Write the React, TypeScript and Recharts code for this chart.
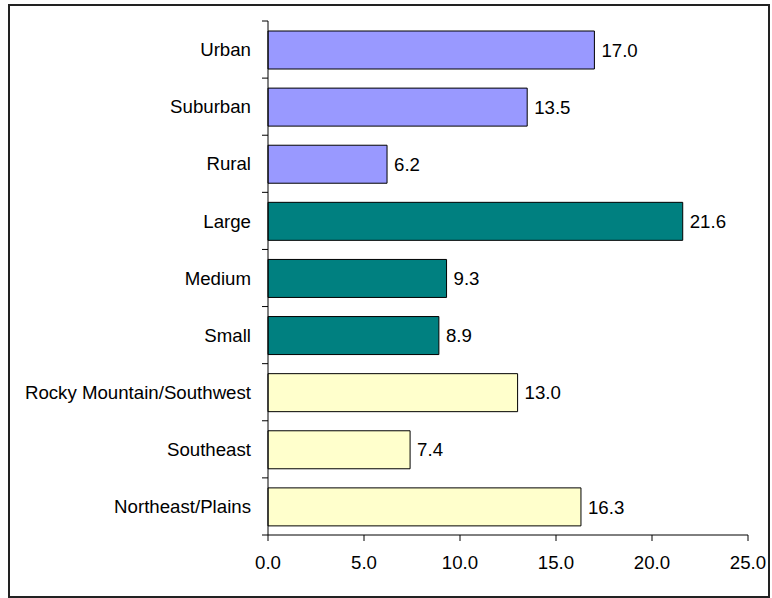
import React from 'react';
import { BarChart, Bar, XAxis, YAxis, Cell, LabelList } from 'recharts';

const categories = [
  'Urban',
  'Suburban',
  'Rural',
  'Large',
  'Medium',
  'Small',
  'Rocky Mountain/Southwest',
  'Southeast',
  'Northeast/Plains',
];
const values = [17.0, 13.5, 6.2, 21.6, 9.3, 8.9, 13.0, 7.4, 16.3];
const groups = ['locale', 'locale', 'locale', 'size', 'size', 'size', 'region', 'region', 'region'];
const xTicks = [0, 5, 10, 15, 20, 25];

const groupColors: Record<string, string> = {
  locale: '#9999FF',
  size: '#008080',
  region: '#FFFFCC',
};

const data = categories.map((name, i) => ({ name, value: values[i], group: groups[i] }));

const FONT = '"Liberation Sans", Arial, sans-serif';
const FS = 18.67;
const W = 772;
const H = 598;
const M = { top: 21, right: 24, bottom: 23, left: 0 };
const X_AXIS_H = 40;
const PLOT_H = H - M.top - M.bottom - X_AXIS_H;

// category ticks sit on the band boundaries, like the original
const CatTick = (props: any) => {
  const { x, y, payload, index } = props;
  const half = payload && payload.offset ? payload.offset : PLOT_H / categories.length / 2;
  const axisX = x + 6 + 11;
  return (
    <g>
      <text x={x} y={y} textAnchor="end" dy="0.36em" fontFamily={FONT} fontSize={FS} fill="#000">
        {payload.value}
      </text>
      <line x1={axisX - 6} x2={axisX} y1={y - half} y2={y - half} stroke="#000" />
      {index === categories.length - 1 && (
        <line x1={axisX - 6} x2={axisX} y1={y + half} y2={y + half} stroke="#000" />
      )}
    </g>
  );
};

export default function App() {
  return (
    <div style={{ position: 'absolute', left: 0, top: 0, width: W, height: H, background: '#fff' }}>
      <div
        style={{
          position: 'absolute',
          left: 8,
          top: 4,
          width: 762,
          height: 594,
          border: '2px solid #222',
          boxSizing: 'border-box',
        }}
      />
      <div style={{ position: 'absolute', left: 0, top: 0 }}>
        <BarChart width={W} height={H} data={data} layout="vertical" margin={M}>
          <XAxis
            type="number"
            domain={[0, 25]}
            ticks={xTicks}
            tickFormatter={(v: number) => v.toFixed(1)}
            axisLine={{ stroke: '#000' }}
            tickLine={{ stroke: '#000' }}
            tickSize={6}
            tickMargin={15}
            height={X_AXIS_H}
            tick={{ fontFamily: FONT, fontSize: FS, fill: '#000' }}
            interval={0}
          />
          <YAxis
            type="category"
            dataKey="name"
            width={268}
            axisLine={{ stroke: '#000' }}
            tickLine={false}
            tickSize={6}
            tickMargin={11}
            interval={0}
            tick={<CatTick />}
          />
          <Bar dataKey="value" barSize={38} stroke="#000" strokeWidth={1} isAnimationActive={false}>
            {data.map((d, i) => (
              <Cell key={i} fill={groupColors[d.group]} />
            ))}
            <LabelList
              dataKey="value"
              position="right"
              offset={7}
              formatter={(v: any) => Number(v).toFixed(1)}
              style={{ fontFamily: FONT, fontSize: FS, fill: '#000' }}
            />
          </Bar>
        </BarChart>
      </div>
    </div>
  );
}
